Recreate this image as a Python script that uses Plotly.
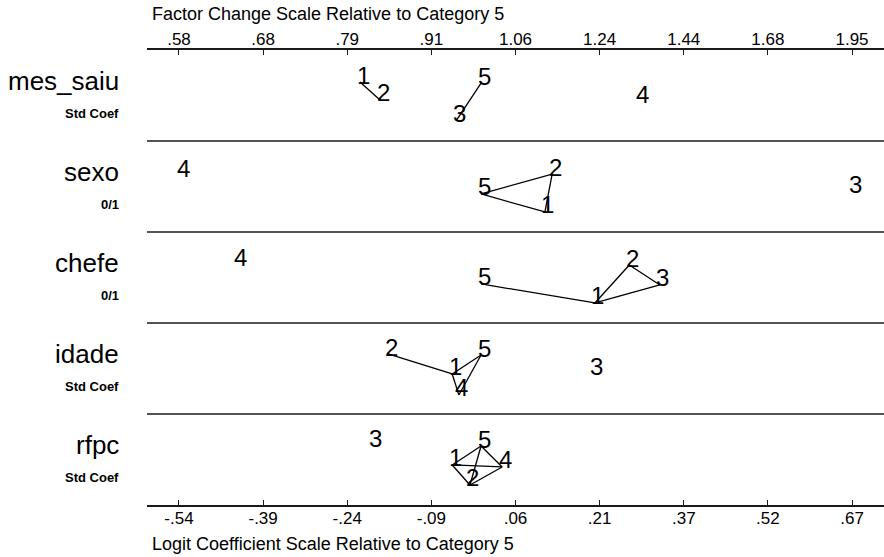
import plotly.graph_objects as go

# ---------------- data ----------------
variables = ["mes_saiu", "sexo", "chefe", "idade", "rfpc"]
var_units = ["Std Coef", "0/1", "0/1", "Std Coef", "Std Coef"]
categories = ["1", "2", "3", "4", "5"]

# logit coefficients relative to category 5 (categories 1..5)
logit_mes_saiu = [-0.218, -0.182, -0.045, 0.285, 0.0]
logit_sexo = [0.115, 0.128, 0.668, -0.542, 0.0]
logit_chefe = [0.205, 0.267, 0.322, -0.439, 0.0]
logit_idade = [-0.052, -0.166, 0.203, -0.040, 0.0]
logit_rfpc = [-0.052, -0.020, -0.196, 0.038, 0.0]

# vertical placement of each category inside its row (0 = bottom, 1 = top)
level_mes_saiu = [0.648, 0.451, 0.220, 0.429, 0.637]
level_sexo = [0.220, 0.637, 0.440, 0.626, 0.418]
level_chefe = [0.220, 0.637, 0.418, 0.648, 0.429]
level_idade = [0.440, 0.659, 0.440, 0.209, 0.648]
level_rfpc = [0.440, 0.220, 0.659, 0.418, 0.648]

# pairs of categories that are connected (not significantly different)
links_mes_saiu = [(1, 2), (3, 5)]
links_sexo = [(5, 2), (5, 1), (2, 1)]
links_chefe = [(5, 1), (1, 2), (2, 3), (1, 3)]
links_idade = [(2, 1), (1, 5), (1, 4), (4, 5)]
links_rfpc = [(1, 5), (1, 4), (1, 2), (2, 4), (4, 5), (5, 2)]

logit_ticks = [-0.544, -0.3925, -0.241, -0.0895, 0.062, 0.2135, 0.365, 0.5165, 0.668]
logit_labels = ["-.54", "-.39", "-.24", "-.09", ".06", ".21", ".37", ".52", ".67"]
factor_labels = [".58", ".68", ".79", ".91", "1.06", "1.24", "1.44", "1.68", "1.95"]

logits = [logit_mes_saiu, logit_sexo, logit_chefe, logit_idade, logit_rfpc]
levels = [level_mes_saiu, level_sexo, level_chefe, level_idade, level_rfpc]
links = [links_mes_saiu, links_sexo, links_chefe, links_idade, links_rfpc]

# ---------------- figure ----------------
FONT = "Liberation Sans, Arial, Helvetica, sans-serif"
n = len(variables)
x_range = [-0.6016, 0.7256]

fig = go.Figure()
annotations = []

for i, var in enumerate(variables):
    base = n - 1 - i
    xs, ys = [], []
    for a, b in links[i]:
        xs += [logits[i][a - 1], logits[i][b - 1], None]
        ys += [base + levels[i][a - 1], base + levels[i][b - 1], None]
    fig.add_trace(go.Scatter(x=xs, y=ys, mode="lines",
                             line=dict(color="black", width=1.3),
                             hoverinfo="skip", showlegend=False))
    fig.add_trace(go.Scatter(x=logits[i], y=[base + v for v in levels[i]],
                             mode="markers", marker=dict(size=1, opacity=0),
                             text=categories, showlegend=False, hoverinfo="text"))
    for c, xv, lv in zip(categories, logits[i], levels[i]):
        annotations.append(dict(x=xv, y=base + lv, xref="x", yref="y",
                                text=c, showarrow=False, xshift=3, yshift=7,
                                font=dict(family=FONT, size=24, color="black")))
    annotations.append(dict(x=0, y=base + 0.66, xref="paper", yref="y",
                            text=var, showarrow=False, xanchor="right",
                            xshift=-26, font=dict(family=FONT, size=26, color="black")))
    annotations.append(dict(x=0, y=base + 0.297, xref="paper", yref="y",
                            text="<b>" + var_units[i] + "</b>", showarrow=False,
                            xanchor="right", xshift=-26,
                            font=dict(family=FONT, size=13, color="black")))

fig.add_trace(go.Scatter(x=logit_ticks, y=[None] * len(logit_ticks), xaxis="x2",
                         yaxis="y", mode="markers", showlegend=False, hoverinfo="skip"))

shapes = []
for k in range(1, n):
    shapes.append(dict(type="line", xref="paper", yref="y", x0=0, x1=1, y0=k, y1=k,
                       line=dict(color="#1a1a1a", width=1.6)))

annotations.append(dict(x=0, y=1, xref="paper", yref="paper", yshift=36,
                        xshift=3, text="Factor Change Scale Relative to Category 5",
                        showarrow=False, xanchor="left", yanchor="middle",
                        font=dict(family=FONT, size=18, color="black")))
annotations.append(dict(x=0, y=0, xref="paper", yref="paper", yshift=-39,
                        xshift=3, text="Logit Coefficient Scale Relative to Category 5",
                        showarrow=False, xanchor="left", yanchor="middle",
                        font=dict(family=FONT, size=18, color="black")))

axis_common = dict(range=x_range, showgrid=False, zeroline=False, showline=True,
                   linecolor="#1a1a1a", linewidth=1.6, ticks="inside", ticklen=5,
                   tickcolor="#1a1a1a", tickvals=logit_ticks,
                   tickfont=dict(family=FONT, size=17, color="black"))

fig.update_layout(
    width=884, height=557,
    margin=dict(l=147, r=0, t=50, b=52),
    paper_bgcolor="white", plot_bgcolor="white",
    xaxis=dict(**axis_common, ticktext=logit_labels, side="bottom",
               ticklabelstandoff=-3),
    xaxis2=dict(**axis_common, ticktext=factor_labels, side="top",
                overlaying="x", matches="x", ticklabelstandoff=-4),
    yaxis=dict(range=[0, n], visible=False, fixedrange=True),
    shapes=shapes,
    annotations=annotations,
)

fig.write_html("out.html", config={"displayModeBar": False},
               post_script="document.body.style.margin='0';document.body.style.padding='0';")
